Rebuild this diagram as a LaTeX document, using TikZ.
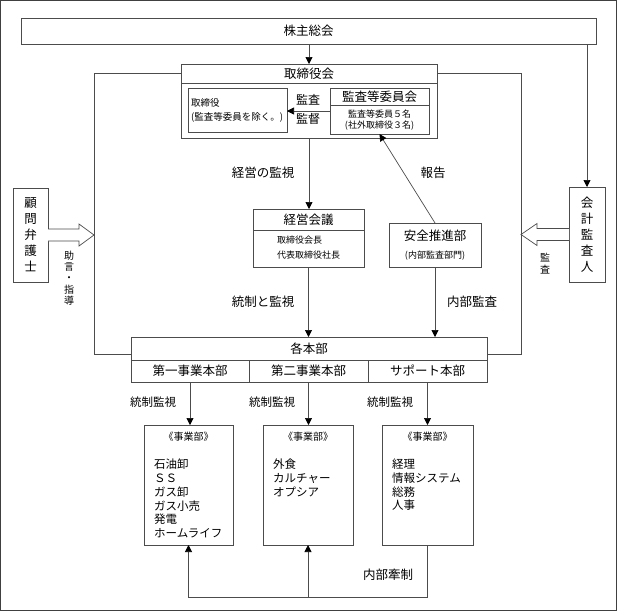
\documentclass[tikz,border=0pt]{standalone}
\usepackage{fontspec}
\setmainfont{Noto Sans CJK JP}
\usetikzlibrary{arrows.meta}

\begin{document}
\begin{tikzpicture}[x=1pt,y=-1pt,
        line/.style={draw=black!70, line width=0.7pt},
        box/.style={line, rectangle, inner sep=0pt, outer sep=0pt, fill=white},
        big/.style={inner sep=0pt, font=\fontsize{12.5}{16}\selectfont},
        lbl/.style={inner sep=0pt, font=\fontsize{11.5}{13}\selectfont},
        small/.style={inner sep=0pt, font=\fontsize{9}{13}\selectfont},
        lst/.style={inner sep=0pt, anchor=north west, align=left, font=\fontsize{11.5}{13.7}\selectfont},
        arr/.style={line, -{Triangle[length=7pt,width=7pt,fill=black,color=black]}},
        hollow/.style={draw=black!70, line width=0.7pt, fill=white}]
    %frame
    \useasboundingbox (0,0) rectangle (617,611);
    \draw[black!75, line width=1.2pt] (0.6,0.6) rectangle (616.4,610.4);
    %
    %top
    \node[box, minimum width=575, minimum height=26] (kabunushi) at (308.5,31) {};
    \node[big] (kabunushi-t) at (kabunushi) {株主総会};
    %board
    \node[box, minimum width=256, minimum height=74] (torikai) at (309,101) {};
    \draw[line] ([yshift=-19pt]torikai.north west) -- ([yshift=-19pt]torikai.north east);
    \node[big] (torikai-t) at ([yshift=-9.5pt]torikai.north) {取締役会};
    \node[box, minimum width=99, minimum height=44] (tori) at (237.5,110) {};
    \node[small, anchor=west, align=left, font=\fontsize{9.5}{14}\selectfont] (tori-t) at ([xshift=3pt]tori.west) {取締役\\(監査等委員を除く。)};
    \node[box, minimum width=99, minimum height=46] (iinkai) at (379.5,111) {};
    \draw[line] ([yshift=-17pt]iinkai.north west) -- ([yshift=-17pt]iinkai.north east);
    \node[big] (iinkai-t) at ([yshift=-8.5pt]iinkai.north) {監査等委員会};
    \node[small, align=center, font=\fontsize{9}{11}\selectfont] (iinkai-s) at (379.5,120.5) {監査等委員５名\\(社外取締役３名)};
    \draw[arr] (iinkai.west) -- (iinkai.west -| tori.east);
    \node[lbl, font=\fontsize{12}{14}\selectfont] (kansa-l) at (308,100) {監査};
    \node[lbl, font=\fontsize{12}{14}\selectfont] (kantoku-l) at (308,119) {監督};
    %
    %management
    \node[box, minimum width=111, minimum height=58] (keiei) at (308.5,238) {};
    \draw[line] ([yshift=-21pt]keiei.north west) -- ([yshift=-21pt]keiei.north east);
    \node[big] (keiei-t) at ([yshift=-10.5pt]keiei.north) {経営会議};
    \node[small, anchor=west, align=left, font=\fontsize{9}{15}\selectfont] (keiei-s) at (277,247.5) {取締役会長\\代表取締役社長};
    \node[box, minimum width=92, minimum height=44] (anzen) at (435,245) {};
    \node[big] (anzen-t) at (435,236) {安全推進部};
    \node[small] (anzen-s) at (435,256) {(内部監査部門)};
    %
    %advisors
    \node[box, minimum width=35, minimum height=94] (komon) at (30.5,235) {};
    \node[big, align=center] (komon-t) at (komon) {顧\\問\\弁\\護\\士};
    \node[box, minimum width=36, minimum height=95] (kaikei) at (587,234.5) {};
    \node[big, align=center] (kaikei-t) at (kaikei) {会\\計\\監\\査\\人};
    \draw[hollow] (komon.east) ++(0,6) -- ++(31,0) -- ++(0,5) -- ++(15,-11) -- ++(-15,-11) -- ++(0,5) -- ++(-31,0);
    \draw[hollow] (kaikei.west) ++(0,6) -- ++(-32,0) -- ++(0,5) -- ++(-16,-11) -- ++(16,-11) -- ++(0,5) -- ++(32,0);
    \node[small, align=center, font=\fontsize{10}{11.3}\selectfont] (jogen-l) at (69,278) {助\\言\\・\\指\\導};
    \node[small, align=center, font=\fontsize{10}{12}\selectfont] (kansa-r) at (545,264) {監\\査};
    %
    %headquarters
    \node[box, minimum width=356, minimum height=23] (honbu) at (309,348.5) {};
    \node[big] (honbu-t) at (honbu) {各本部};
    \node[box, minimum width=118, minimum height=22] (h1) at (190,371) {};
    \node[box, minimum width=119, minimum height=22] (h2) at (308.5,371) {};
    \node[box, minimum width=119, minimum height=22] (h3) at (427.5,371) {};
    \node[big] (h1-t) at (h1) {第一事業本部};
    \node[big] (h2-t) at (h2) {第二事業本部};
    \node[big] (h3-t) at (h3) {サポート本部};
    %
    %divisions
    \node[box, minimum width=89, minimum height=120] (b1) at (188.5,485) {};
    \node[box, minimum width=90, minimum height=120] (b2) at (308,485) {};
    \node[box, minimum width=91, minimum height=120] (b3) at (427.5,485) {};
    \foreach \b in {b1,b2,b3} {
        \node[small, font=\fontsize{10}{12}\selectfont] (\b-t) at ([yshift=-12pt]\b.north) {《事業部》};
    }
    \node[lst] (b1-s) at ([xshift=10pt]b1.west |- 0,459) {石油卸\\ＳＳ\\ガス卸\\ガス小売\\発電\\ホームライフ};
    \node[lst] (b2-s) at ([xshift=10pt]b2.west |- 0,459) {外食\\カルチャー\\オプシア};
    \node[lst] (b3-s) at ([xshift=10pt]b3.west |- 0,459) {経理\\情報システム\\総務\\人事};
    %
    %connectors
    \draw[arr] (kabunushi.south -| torikai.north) -- (torikai.north);
    \draw[arr] (kabunushi.south -| kaikei.north) -- (kaikei.north);
    \draw[arr] (torikai.south) -- (torikai.south |- keiei.north);
    \draw[arr] (anzen.north) -- (iinkai.south);
    \draw[arr] (keiei.south) -- (keiei.south |- honbu.north);
    \draw[arr] (anzen.south) -- (anzen.south |- honbu.north);
    \coordinate (lt) at (94,73);
    \coordinate (lb) at (94,354);
    \coordinate (rt) at (521,73);
    \coordinate (rb) at (521,354);
    \draw[line] (torikai.west |- lt) -- (lt) -- (lb) -- (lb -| honbu.west);
    \draw[line] (torikai.east |- rt) -- (rt) -- (rb) -- (rb -| honbu.east);
    \draw[arr] (h1.south) -- (h1.south |- b1.north);
    \draw[arr] (h2.south) -- (h2.south |- b2.north);
    \draw[arr] (h3.south) -- (h3.south |- b3.north);
    \coordinate (bot) at (0,597);
    \draw[arr] (b3.south) -- (b3.south |- bot) -- (b1.south |- bot) -- (b1.south);
    \draw[arr] (b2.south |- bot) -- (b2.south);
    %
    %labels
    \node[big] (keieikanshi-l) at (263,173) {経営の監視};
    \node[big] (hokoku-l) at (433,173) {報告};
    \node[big] (toseikanshi-l) at (263,302) {統制と監視};
    \node[big] (naibukansa-l) at (472,302) {内部監査};
    \node[lbl] (tosei1-l) at (153,402) {統制監視};
    \node[lbl] (tosei2-l) at (272,402) {統制監視};
    \node[lbl] (tosei3-l) at (390,402) {統制監視};
    \node[big] (kensei-l) at (388,575) {内部牽制};
\end{tikzpicture}
\end{document}
